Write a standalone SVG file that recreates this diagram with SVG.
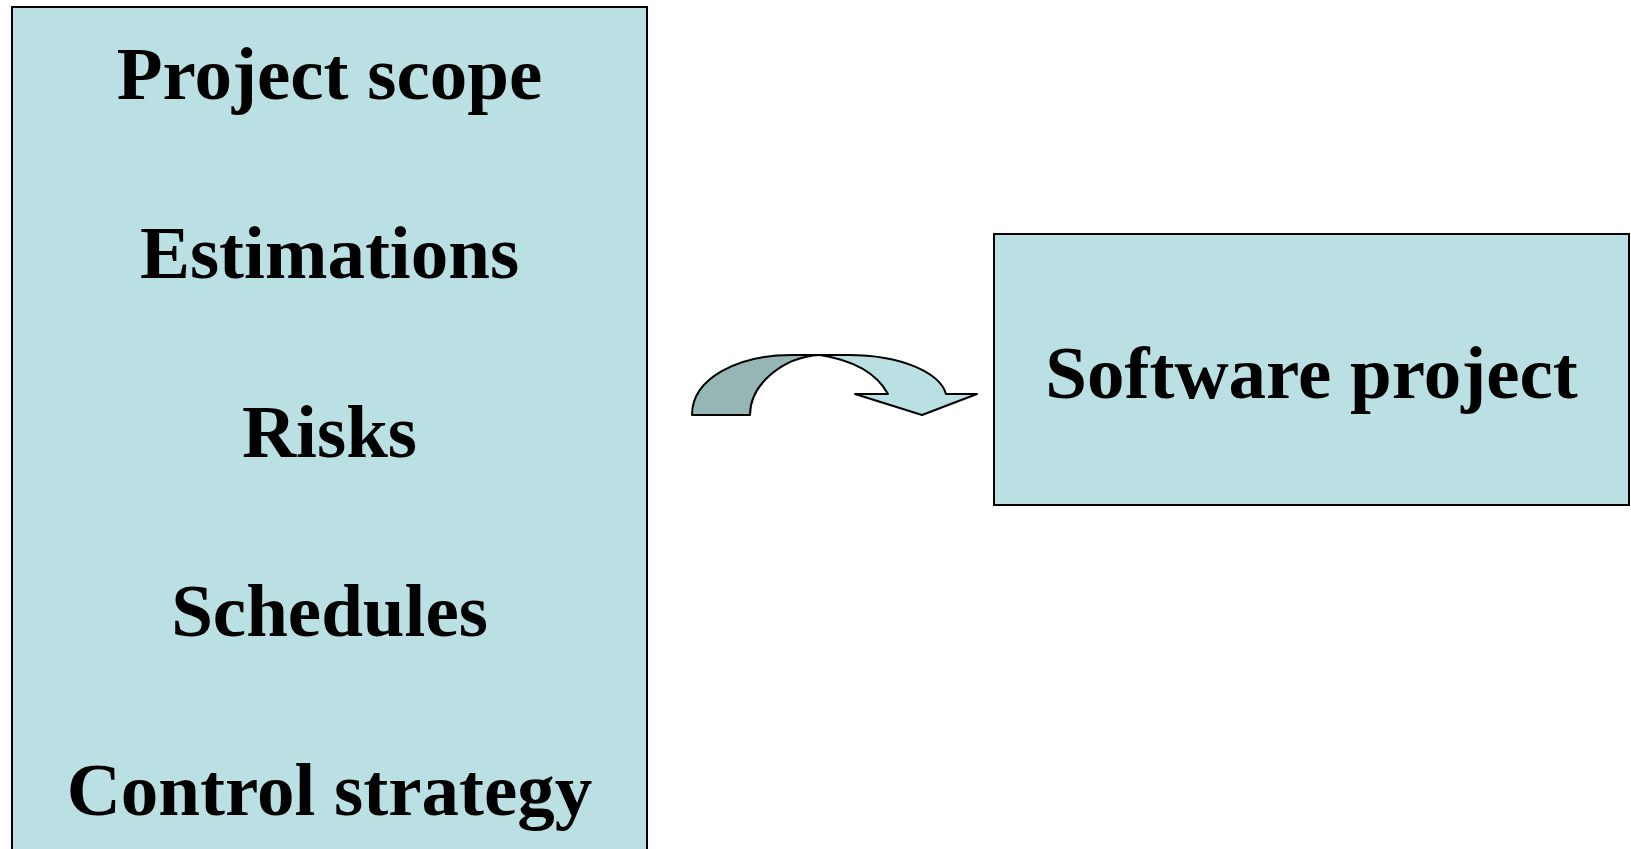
<svg xmlns="http://www.w3.org/2000/svg" width="1631" height="849" viewBox="0 0 1631 849">
<style>
.box{fill:#BBE0E3;stroke:#000;stroke-width:2}
.t{font-family:"Liberation Serif","Times New Roman",serif;font-weight:bold;font-size:75px;fill:#000;text-anchor:middle}
.arr{stroke:#000;stroke-width:2;stroke-linejoin:round}
</style>
<rect width="1631" height="849" fill="#fff"/>
<g id="plan">
<rect class="box" x="12" y="7" width="635" height="860"/>
<text class="t" x="329.5" y="99">Project scope</text>
<text class="t" x="329.5" y="278">Estimations</text>
<text class="t" x="329.5" y="457">Risks</text>
<text class="t" x="329.5" y="636">Schedules</text>
<text class="t" x="329.5" y="815">Control strategy</text>
</g>
<g id="connectors">
<path class="arr" fill="#96B5B5" d="M692,415 C692,378 738,355 792,355 L820,355 C782,357 750,385 750,415 Z"/>
<path class="arr" fill="#BBE0E3" d="M820,355 L848,355 C902,355 940,373 946,394 L977,394 L922,415 L855,394 L888,394 C876,372 852,360 820,355 Z"/>
</g>
<g id="software">
<rect class="box" x="994" y="234" width="635" height="271"/>
<text class="t" x="1311.5" y="398">Software project</text>
</g>
</svg>
